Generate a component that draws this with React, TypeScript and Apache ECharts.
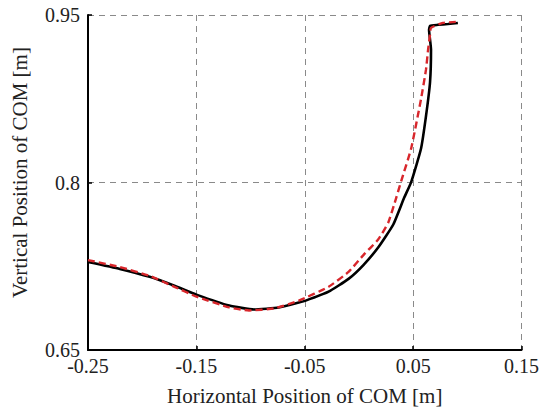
import React, { useEffect, useRef } from "react";
import * as echarts from "echarts";

// Measured trajectory (black, solid)
const measuredX = [-0.25, -0.2206, -0.1931, -0.1702, -0.15, -0.1197, -0.0968, -0.0739, -0.0555, -0.0491, -0.028, -0.0096, 0.0041, 0.0179, 0.0317, 0.0417, 0.0482, 0.0573, 0.0619, 0.0656, 0.0665, 0.0647, 0.0656, 0.0729, 0.0821, 0.0913];
const measuredY = [0.7288, 0.7226, 0.7155, 0.7075, 0.6996, 0.6898, 0.6863, 0.6881, 0.6925, 0.6942, 0.7022, 0.7137, 0.7261, 0.742, 0.7624, 0.7863, 0.8004, 0.8305, 0.8597, 0.8898, 0.919, 0.9367, 0.9403, 0.9412, 0.942, 0.9429];

// Model trajectory (red, dashed)
const modelX = [-0.25, -0.2206, -0.1931, -0.1702, -0.15, -0.1197, -0.1014, -0.0784, -0.0555, -0.028, -0.0096, 0.0041, 0.0179, 0.0271, 0.0344, 0.039, 0.0482, 0.0573, 0.0619, 0.0638, 0.0656, 0.0665, 0.0775, 0.0894];
const modelY = [0.7305, 0.7243, 0.7164, 0.7066, 0.6978, 0.6881, 0.6854, 0.6872, 0.6942, 0.7066, 0.7199, 0.735, 0.7491, 0.7642, 0.7863, 0.8013, 0.8305, 0.8748, 0.9013, 0.919, 0.9323, 0.9385, 0.9429, 0.9438];

const xTickLabels = ["-0.25", "-0.15", "-0.05", "0.05", "0.15"];
const yTickLabels = ["0.65", "0.8", "0.95"];

const X_MIN = -0.25;
const X_MAX = 0.15;
const Y_MIN = 0.65;
const Y_MAX = 0.95;
// axis shifts so that axis minimum is a multiple of the tick interval
const X_SHIFT = 0.05;
const Y_SHIFT = -0.65;

const round2 = (v: number) => Math.round(v * 100) / 100;

export default function App() {
  const ref = useRef<HTMLDivElement>(null);
  useEffect(() => {
    if (!ref.current) return;
    const chart = echarts.init(ref.current, null, { renderer: "svg" });
    const toPts = (xs: number[], ys: number[]) =>
      xs.map((x, i) => [x + X_SHIFT, ys[i] + Y_SHIFT]);
    const font = "Liberation Serif, DejaVu Serif, serif";
    chart.setOption({
      animation: false,
      backgroundColor: "#ffffff",
      textStyle: { fontFamily: font },
      grid: { left: 88, right: 18, top: 15, bottom: 57, containLabel: false },
      xAxis: {
        type: "value",
        min: X_MIN + X_SHIFT,
        max: X_MAX + X_SHIFT,
        interval: 0.1,
        name: "Horizontal Position of COM [m]",
        nameLocation: "middle",
        nameGap: 35,
        nameTextStyle: { fontFamily: font, fontSize: 21, color: "#222" },
        axisLine: { show: true, onZero: false, lineStyle: { color: "#000", width: 2 } },
        axisTick: { show: true, inside: true, length: 4, lineStyle: { color: "#000", width: 1.5 } },
        axisLabel: {
          fontFamily: font,
          fontSize: 20,
          color: "#222",
          margin: 6,
          formatter: (v: number) => {
            const s = String(round2(v - X_SHIFT));
            return xTickLabels.includes(s) ? s : "";
          },
        },
        splitLine: { show: true, lineStyle: { color: "#8a8a8a", width: 1, type: [6, 5] } },
      },
      yAxis: {
        type: "value",
        min: Y_MIN + Y_SHIFT,
        max: Y_MAX + Y_SHIFT,
        interval: 0.15,
        name: "Vertical Position of COM [m]",
        nameLocation: "middle",
        nameGap: 58,
        nameTextStyle: { fontFamily: font, fontSize: 21, color: "#222", padding: [0, 0, 0, 20] },
        axisLine: { show: true, onZero: false, lineStyle: { color: "#000", width: 2 } },
        axisTick: { show: true, inside: true, length: 4, lineStyle: { color: "#000", width: 1.5 } },
        axisLabel: {
          fontFamily: font,
          fontSize: 20,
          color: "#222",
          margin: 8,
          formatter: (v: number) => {
            const s = String(round2(v - Y_SHIFT));
            return yTickLabels.includes(s) ? s : "";
          },
        },
        splitLine: { show: true, lineStyle: { color: "#8a8a8a", width: 1, type: [6, 5] } },
      },
      series: [
        {
          name: "measured",
          type: "line",
          data: toPts(measuredX, measuredY),
          showSymbol: false,
          smooth: 0.15,
          lineStyle: { color: "#000", width: 2.6 },
          z: 2,
        },
        {
          name: "model",
          type: "line",
          data: toPts(modelX, modelY),
          showSymbol: false,
          smooth: 0.15,
          lineStyle: { color: "#d8262b", width: 2.4, type: [7, 4] },
          z: 3,
        },
      ],
    });
    return () => chart.dispose();
  }, []);
  return (
    <div
      ref={ref}
      style={{ position: "fixed", left: 0, top: 0, width: 542, height: 411 }}
    />
  );
}
